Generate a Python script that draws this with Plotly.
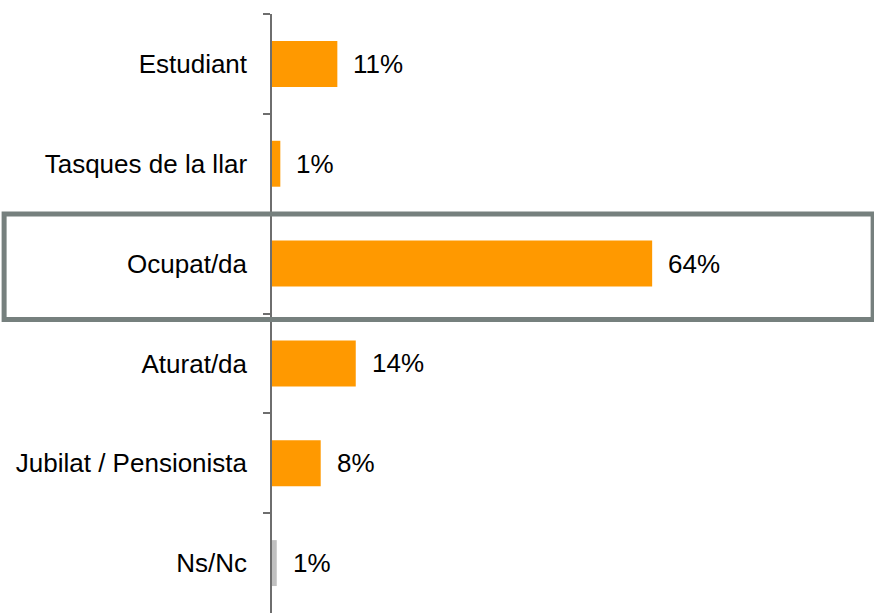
import plotly.graph_objects as go

categories = ["Estudiant", "Tasques de la llar", "Ocupat/da", "Aturat/da", "Jubilat / Pensionista", "Ns/Nc"]
values = [11, 1.4, 64, 14.1, 8.2, 0.8]
labels = ["11%", "1%", "64%", "14%", "8%", "1%"]
colors = ["#FF9900", "#FF9900", "#FF9900", "#FF9900", "#FF9900", "#C0C0C0"]

FONT = "Liberation Sans, Arial, sans-serif"

fig = go.Figure()
fig.add_trace(go.Bar(
    y=categories, x=values, orientation="h",
    marker=dict(color=colors, line=dict(width=0)),
    width=0.46, hoverinfo="skip",
))

for c, v, t in zip(categories, values, labels):
    fig.add_annotation(x=v, y=c, text=t, showarrow=False, xanchor="left",
                       xshift=14, font=dict(family=FONT, size=26, color="#000000"))

fig.add_shape(type="rect", xref="paper", yref="paper",
              x0=-0.451, x1=1.012, y0=0.49, y1=0.666,
              line=dict(color="#76807E", width=5), fillcolor="rgba(0,0,0,0)")

fig.update_layout(
    width=874, height=613,
    margin=dict(l=272, r=8, t=14, b=0),
    paper_bgcolor="white", plot_bgcolor="white",
    showlegend=False,
    font=dict(family=FONT, size=26, color="#000000"),
    xaxis=dict(range=[0, 100], visible=False, fixedrange=True),
    yaxis=dict(
        type="category", categoryorder="array", categoryarray=categories,
        autorange="reversed", fixedrange=True,
        showline=True, linecolor="#6E6E6E", linewidth=1.5,
        ticks="outside", tickson="boundaries", ticklen=7, tickcolor="#6E6E6E",
        tickwidth=1.5, ticklabelstandoff=18, showgrid=False, zeroline=False,
        tickfont=dict(family=FONT, size=26, color="#000000"),
    ),
)

fig.write_html("out.html", config={"displayModeBar": False},
               post_script="document.body.style.margin='0';document.body.style.overflow='hidden';")
